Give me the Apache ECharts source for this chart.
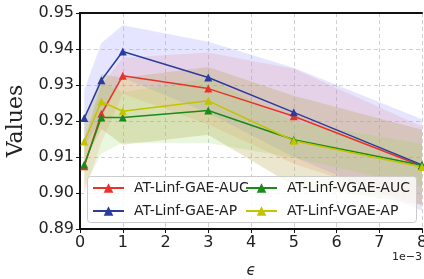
<!DOCTYPE html>
<head>
    <meta charset="utf-8">
    <title>AT-Linf</title>
    <script src="https://cdn.jsdelivr.net/npm/echarts@6/dist/echarts.min.js"></script>
    <style>body{margin:0;background:#fff}</style>
</head>
<body>
    <div id="main" style="width:424px;height:279px"></div>
    <script type="text/javascript">
        // epsilon values (x 1e-3)
        var eps = [0.1, 0.5, 1, 3, 5, 8];
        var names = ['AT-Linf-GAE-AUC', 'AT-Linf-GAE-AP', 'AT-Linf-VGAE-AUC', 'AT-Linf-VGAE-AP'];
        var gaeAuc = [0.9074, 0.9220, 0.9326, 0.9290, 0.9213, 0.9075];
        var gaeAucStd = [0.0076, 0.0080, 0.0050, 0.0100, 0.0132, 0.0110];
        var gaeAp = [0.9208, 0.9313, 0.9393, 0.9321, 0.9224, 0.9078];
        var gaeApStd = [0.0079, 0.0104, 0.0073, 0.0099, 0.0124, 0.0127];
        var vgaeAuc = [0.9079, 0.9210, 0.9210, 0.9229, 0.9148, 0.9077];
        var vgaeAucStd = [0.0060, 0.0100, 0.0070, 0.0090, 0.0050, 0.0060];
        var vgaeAp = [0.9143, 0.9254, 0.9227, 0.9256, 0.9145, 0.9072];
        var vgaeApStd = [0.0057, 0.0076, 0.0093, 0.0094, 0.0125, 0.0104];
        var yTicks = [0.89, 0.90, 0.91, 0.92, 0.93, 0.94, 0.95];

        var means = [gaeAuc, gaeAp, vgaeAuc, vgaeAp];
        var stds = [gaeAucStd, gaeApStd, vgaeAucStd, vgaeApStd];
        var colors = ['#e8332b', '#2b3c9e', '#1a8a1a', '#c3c300'];
        var bandColors = ['rgba(255,140,120,0.22)', 'rgba(150,150,255,0.25)', 'rgba(150,220,100,0.22)', 'rgba(170,160,60,0.25)'];

        function bandSeries(k) {
            var data = [];
            for (var j = 0; j < eps.length; j++) {
                data.push([eps[j], means[k][j] - stds[k][j], means[k][j] + stds[k][j]]);
            }
            return {
                type: 'custom', silent: true, z: 1, clip: true,
                data: data,
                encode: {x: 0, y: [1, 2]},
                renderItem: function (params, api) {
                    if (params.dataIndex !== 0) return;
                    var top = [], bot = [];
                    for (var j = 0; j < data.length; j++) {
                        top.push(api.coord([data[j][0], data[j][2]]));
                        bot.unshift(api.coord([data[j][0], data[j][1]]));
                    }
                    return {
                        type: 'polygon',
                        shape: {points: top.concat(bot)},
                        style: {fill: bandColors[k]}
                    };
                }
            };
        }

        var series = [];
        for (var i = 0; i < 4; i++) series.push(bandSeries(i));
        for (var i = 0; i < 4; i++) {
            var line = [];
            for (var j = 0; j < eps.length; j++) line.push([eps[j], means[i][j]]);
            series.push({
                name: names[i], type: 'line', data: line, symbol: 'triangle', symbolSize: 8,
                itemStyle: {color: colors[i]}, lineStyle: {color: colors[i], width: 1.5}, z: 2
            });
        }

        var lblFont = {fontFamily: 'DejaVu Sans', fontSize: 16, color: '#222'};
        var legText = {fontFamily: 'DejaVu Sans', fontSize: 14, color: '#222', padding: [0, 0, 0, 5]};
        var frame = {show: true, lineStyle: {color: '#111', width: 2}};
        var myChart = echarts.init(document.getElementById('main'));
        var option = {
            animation: false,
            grid: {left: 80, right: 2, top: 13, bottom: 50, outerBoundsMode: 'none'},
            xAxis: [{
                type: 'value', min: 0, max: 8, interval: 1,
                name: 'ϵ', nameLocation: 'middle', nameGap: 35,
                nameTextStyle: {fontFamily: 'DejaVu Sans', fontSize: 15, fontStyle: 'italic', color: '#222'},
                axisLine: frame,
                axisTick: {show: true, length: 4, lineStyle: {color: '#111'}},
                axisLabel: Object.assign({margin: 6}, lblFont),
                splitLine: {show: true, lineStyle: {color: '#d0d0d0', type: [4, 3]}}
            }, {
                type: 'value', position: 'top', min: 0, max: 8, interval: 1,
                axisLine: frame, axisTick: {show: false}, axisLabel: {show: false}, splitLine: {show: false}
            }],
            yAxis: [{
                type: 'value', min: yTicks[0], max: yTicks[yTicks.length - 1], interval: 0.01,
                name: 'Values', nameLocation: 'middle', nameGap: 36,
                nameTextStyle: {fontFamily: 'DejaVu Serif', fontSize: 22, color: '#222'},
                axisLine: frame,
                axisTick: {show: true, length: 4, lineStyle: {color: '#111'}},
                axisLabel: Object.assign({margin: 6, formatter: function (v) { return v.toFixed(2); }}, lblFont),
                splitLine: {show: true, lineStyle: {color: '#d0d0d0', type: [4, 3]}}
            }, {
                type: 'value', position: 'right', min: yTicks[0], max: yTicks[yTicks.length - 1], interval: 0.01,
                axisLine: frame, axisTick: {show: false}, axisLabel: {show: false}, splitLine: {show: false}
            }],
            graphic: [
                {type: 'rect', z: 3, shape: {x: 87.5, y: 176.5, width: 329, height: 46, r: 3},
                 style: {fill: 'rgba(255,255,255,0.8)', stroke: '#ccc', lineWidth: 1}},
                {type: 'text', z: 3, right: 2, top: 252,
                 style: {text: '1e\u22123', fontFamily: 'DejaVu Sans', fontSize: 11, fill: '#222'}}
            ],
            legend: [
                {orient: 'vertical', left: 92, top: 181, itemGap: 9, itemWidth: 31, itemHeight: 12, z: 4, padding: 0,
                 data: [names[0], names[1]], textStyle: legText},
                {orient: 'vertical', left: 245, top: 181, itemGap: 9, itemWidth: 31, itemHeight: 12, z: 4, padding: 0,
                 data: [names[2], names[3]], textStyle: legText}
            ],
            series: series
        };
        myChart.setOption(option);
    </script>
</body>
